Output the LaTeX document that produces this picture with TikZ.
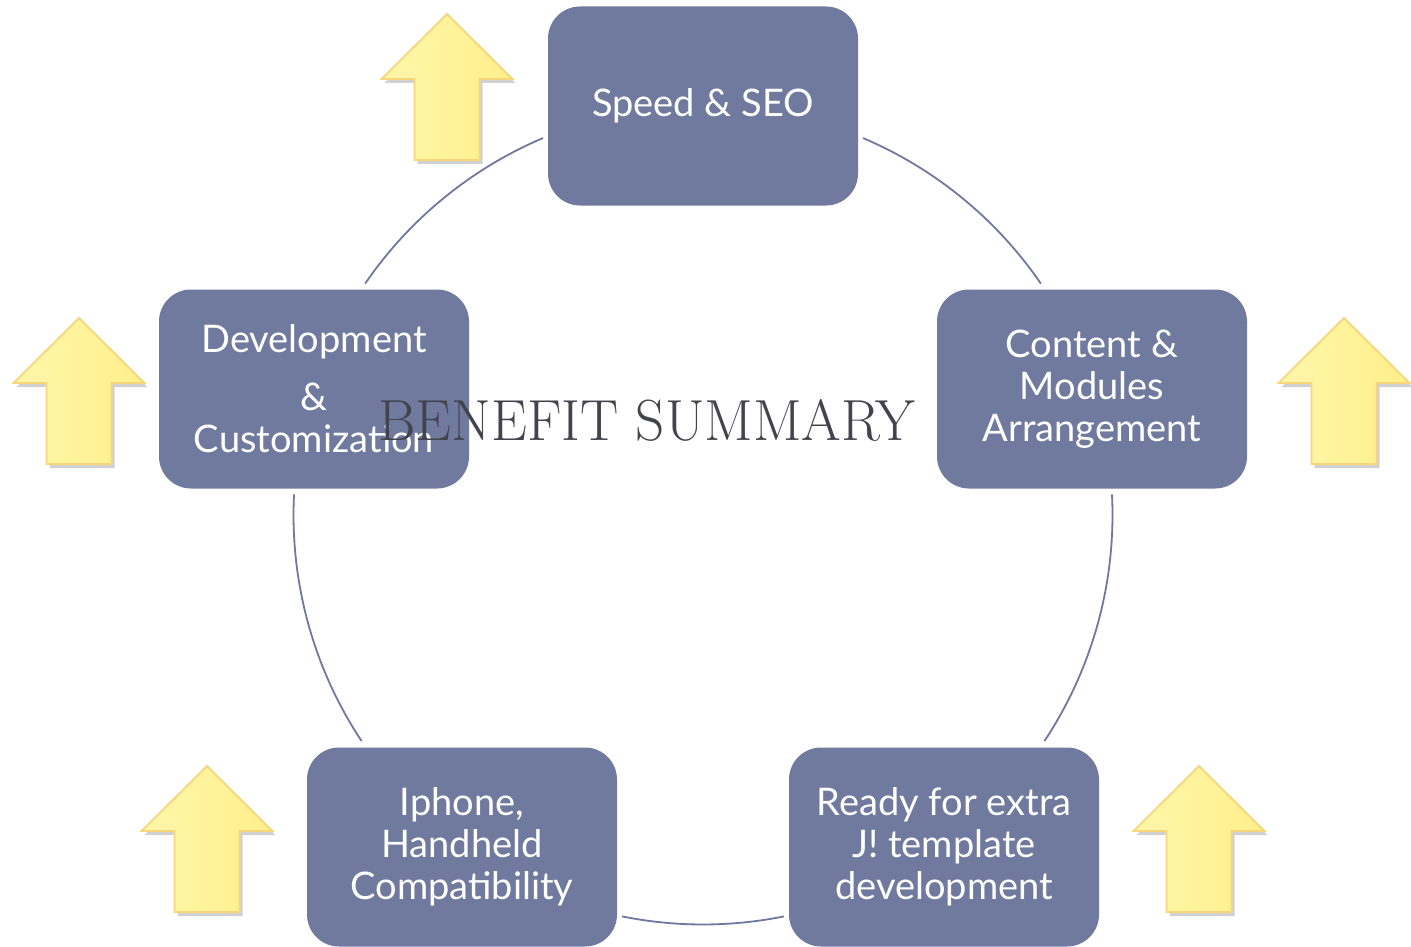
\documentclass[tikz,border=0pt]{standalone}
\usepackage{fontspec}
\usepackage{graphicx}
\newfontfamily\boxfont{Lato}
\usetikzlibrary{shadows}
\definecolor{boxc}{HTML}{707A9F}
\definecolor{ringc}{HTML}{6F789E}
\definecolor{arrowL}{HTML}{FFF6AA}
\definecolor{arrowR}{HTML}{FFEF8A}
\definecolor{arrowB}{HTML}{F7D67A}
\definecolor{titlec}{HTML}{43434D}
\tikzset{
  benefit/.style={fill=boxc, draw=none, rounded corners=32pt, minimum width=310pt, minimum height=199pt,
    text=white, align=center, font=\boxfont\fontsize{38}{42}\selectfont, inner sep=0pt},
  ring/.style={draw=ringc, line width=1.8pt},
  uparrow/.style={draw=arrowB, line width=1.8pt, left color=arrowL, right color=arrowR,
    drop shadow={shadow xshift=3pt, shadow yshift=-4pt, opacity=.3, fill=black!60}},
}
\newcommand\yarrow[3]{% name, x, tip y
  \path[uparrow] (#2,#3) coordinate (#1) -- ++(65.5,65) -- ++(-33,0) -- ++(0,81) -- ++(-65,0) -- ++(0,-81) -- ++(-33,0) -- cycle;
}
\begin{document}
\begin{tikzpicture}[x=1pt,y=-1pt]
\useasboundingbox (0,0) rectangle (1411,947);
\coordinate (c) at (703,515);
% ring arcs
\draw[ring] (c) ++(-113:409.5) arc[start angle=-113, end angle=-145.6, radius=409.5];
\draw[ring] (c) ++(-67:409.5) arc[start angle=-67, end angle=-34.4, radius=409.5];
\draw[ring] (c) ++(-2.9:409.5) arc[start angle=-2.9, end angle=33.5, radius=409.5];
\draw[ring] (c) ++(78.6:409.5) arc[start angle=78.6, end angle=101.4, radius=409.5];
\draw[ring] (c) ++(146.5:409.5) arc[start angle=146.5, end angle=182.9, radius=409.5];
% arrows
\yarrow{a1}{447}{14}
\yarrow{a2}{79}{318}
\yarrow{a3}{1344}{318}
\yarrow{a4}{207}{766}
\yarrow{a5}{1199}{766}
% boxes
\node[benefit] (speed) at (703,106) {Speed \& SEO};
\node[benefit] (content) at (1092,389) {Content \&\\Modules\\Arrangement};
\node[benefit] (ready) at (944,847) {Ready for extra\\J! template\\development};
\node[benefit] (iphone) at (462,847) {Iphone,\\Handheld\\Compatibility};
\node[benefit] (dev) at (314,389) {};
\node[text=white, font=\boxfont\fontsize{38}{42}\selectfont, anchor=base] (devA) at (314,352) {Development};
\node[text=white, font=\boxfont\fontsize{38}{42}\selectfont, anchor=base] (devB) at (314,410) {\&};
\node[text=white, font=\boxfont\fontsize{38}{42}\selectfont, anchor=base] (devC) at (314,452) {Customization};
% title
\node[anchor=base, text=titlec, font=\fontsize{58}{60}\selectfont, inner sep=0pt] (title) at (647,440) {\scalebox{0.985}[1]{BENEFIT SUMMARY}};
\end{tikzpicture}
\end{document}
